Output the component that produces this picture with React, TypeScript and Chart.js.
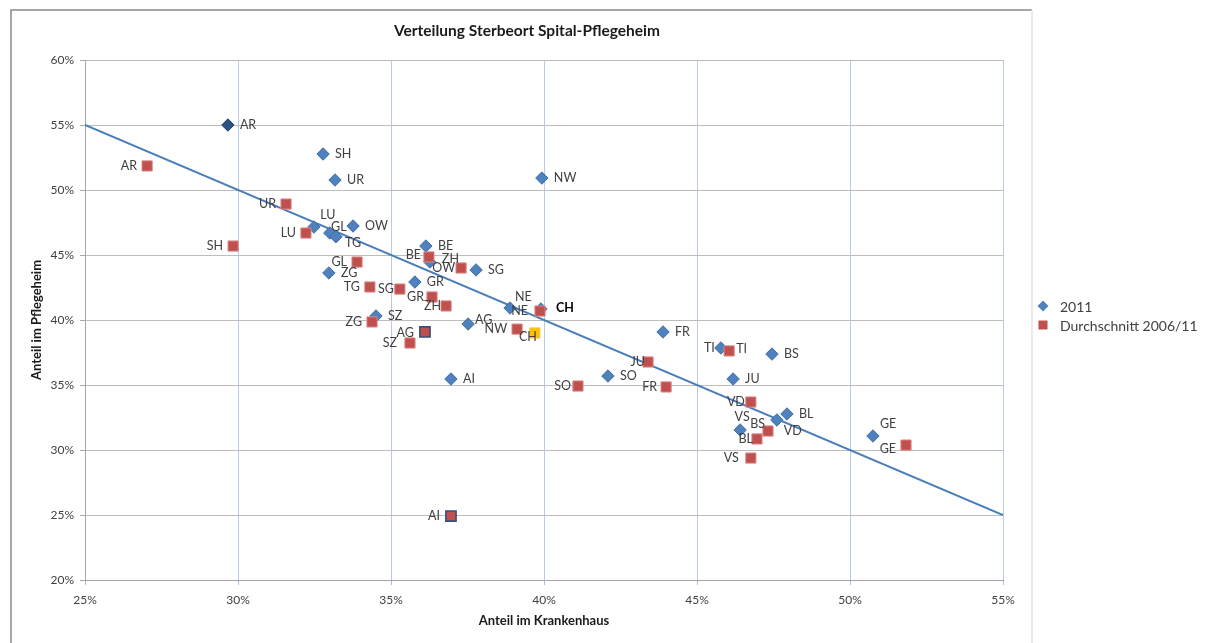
import React, { useEffect, useRef } from 'react';
import { Chart, registerables } from 'chart.js';

Chart.register(...registerables);

// ---------- data ----------
const chartTitle = 'Verteilung Sterbeort Spital-Pflegeheim';
const xAxisTitle = 'Anteil im Krankenhaus';
const yAxisTitle = 'Anteil im Pflegeheim';
const seriesNames = ['2011', 'Durchschnitt 2006/11'];

const xTicks = { min: 25, max: 55, step: 5 };
const yTicks = { min: 20, max: 60, step: 5 };

const names2011 = ['AR', 'SH', 'UR', 'NW', 'LU', 'GL', 'TG', 'OW', 'BE', 'ZH', 'SG', 'ZG', 'GR', 'SZ', 'AG', 'NE', 'CH', 'AI', 'SO', 'FR', 'TI', 'BS', 'JU', 'VS', 'BL', 'VD', 'GE'];
const x2011 = [29.67, 32.78, 33.17, 39.93, 32.48, 33.0, 33.2, 33.76, 36.14, 36.27, 37.78, 32.97, 35.78, 34.51, 37.52, 38.89, 39.9, 36.96, 42.09, 43.89, 45.78, 47.45, 46.18, 46.41, 47.94, 47.61, 50.75];
const y2011 = [55.0, 52.77, 50.77, 50.92, 47.15, 46.69, 46.4, 47.23, 45.69, 44.46, 43.85, 43.62, 42.92, 40.31, 39.69, 40.92, 40.85, 35.46, 35.69, 39.08, 37.85, 37.38, 35.46, 31.54, 32.77, 32.31, 31.08];

const namesAvg = ['AR', 'UR', 'LU', 'SH', 'GL', 'BE', 'OW', 'TG', 'SG', 'GR', 'ZH', 'ZG', 'AG', 'SZ', 'NE', 'NW', 'CH', 'AI', 'SO', 'JU', 'FR', 'TI', 'VD', 'BS', 'BL', 'VS', 'GE'];
const xAvg = [27.03, 31.57, 32.22, 29.84, 33.89, 36.24, 37.29, 34.31, 35.29, 36.34, 36.8, 34.38, 36.11, 35.62, 39.87, 39.12, 39.7, 36.96, 41.11, 43.4, 43.99, 46.05, 46.76, 47.32, 46.96, 46.76, 51.83];
const yAvg = [51.85, 48.92, 46.69, 45.69, 44.46, 44.85, 44.0, 42.54, 42.38, 41.77, 41.08, 39.85, 39.08, 38.23, 40.69, 39.3, 39.0, 24.92, 34.92, 36.77, 34.85, 37.62, 33.69, 31.46, 30.85, 29.38, 30.38];

const trendX = [25, 55];
const trendY = [55, 25];

// ---------- styles ----------
const FONT = 'Lato, "Open Sans", "Liberation Sans", sans-serif';
const BLUE = '#4F81BD';
const BLUE_DARK = '#2B5283';
const RED = '#C0504D';
const YELLOW = '#FFC000';
const TEXT = '#404040';

type Place = [number, number, CanvasTextAlign];
const blueDefault: Place = [12, 0, 'left'];
const redDefault: Place = [-10, 0, 'right'];
const blueLabelPlace: Record<string, Place> = {
  LU: [14, -12, 'center'],
  GL: [9, -6, 'center'],
  TG: [9, 6, 'left'],
  NE: [5, -11, 'left'],
  GE: [7, -12, 'left'],
  VS: [2, -13, 'center'],
  VD: [7, 11, 'left'],
  TI: [-6, 0, 'right'],
  AG: [7, -4, 'left'],
  ZH: [12, -3, 'left'],
  CH: [15, -1, 'left'],
};
const redLabelPlace: Record<string, Place> = {
  TI: [7, -2, 'left'],
  CH: [2, 4, 'right'],
  GE: [-10, 4, 'right'],
  BS: [-3, -7, 'right'],
  BL: [-4, 0, 'right'],
  ZH: [-5, 0, 'right'],
  GR: [-8, 0, 'right'],
  SG: [-6, 0, 'right'],
  OW: [-6, 0, 'right'],
  BE: [-8, -2, 'right'],
  AG: [-11, 1, 'right'],
  SZ: [-13, 0, 'right'],
  JU: [-3, 0, 'right'],
  FR: [-9, 0, 'right'],
  VD: [-6, 0, 'right'],
  VS: [-12, 0, 'right'],
  SO: [-7, 0, 'right'],
  AI: [-11, 0, 'right'],
  NE: [-12, 0, 'right'],
  NW: [-10, 0, 'right'],
};

const framePlugin = {
  id: 'frame',
  beforeDraw(chart: any) {
    const ctx = chart.ctx;
    ctx.save();
    ctx.fillStyle = '#ffffff';
    ctx.fillRect(0, 0, chart.width, chart.height);
    ctx.lineWidth = 1.5;
    ctx.strokeStyle = '#8a8a8a';
    ctx.beginPath();
    ctx.moveTo(11, chart.height);
    ctx.lineTo(11, 10);
    ctx.lineTo(1032, 10);
    ctx.stroke();
    ctx.strokeStyle = '#e4e4e4';
    ctx.beginPath();
    ctx.moveTo(1032, 10);
    ctx.lineTo(1032, chart.height);
    ctx.stroke();
    ctx.restore();
  },
  afterDraw(chart: any) {
    const ctx = chart.ctx;
    ctx.save();
    // title
    ctx.fillStyle = '#1a1a1a';
    ctx.font = `bold 15.5px ${FONT}`;
    ctx.textAlign = 'center';
    ctx.textBaseline = 'middle';
    ctx.fillText(chartTitle, 527, 31);
    // legend
    const lx = 1043;
    const ly = [306, 325];
    ctx.font = `14px ${FONT}`;
    ctx.textAlign = 'left';
    ctx.fillStyle = BLUE;
    ctx.beginPath();
    ctx.moveTo(lx, ly[0] - 5.5);
    ctx.lineTo(lx + 5.5, ly[0]);
    ctx.lineTo(lx, ly[0] + 5.5);
    ctx.lineTo(lx - 5.5, ly[0]);
    ctx.closePath();
    ctx.fill();
    ctx.fillStyle = RED;
    ctx.fillRect(lx - 4.5, ly[1] - 4.5, 9, 9);
    ctx.fillStyle = TEXT;
    ctx.fillText(seriesNames[0], lx + 17, ly[0] + 1);
    ctx.fillText(seriesNames[1], lx + 17, ly[1] + 1);
    ctx.restore();
  },
};

const labelPlugin = {
  id: 'pointLabels',
  afterDatasetsDraw(chart: any) {
    const ctx = chart.ctx;
    ctx.save();
    ctx.textBaseline = 'middle';
    const sets: [number, string[], Place, Record<string, Place>][] = [
      [0, names2011, blueDefault, blueLabelPlace],
      [1, namesAvg, redDefault, redLabelPlace],
    ];
    for (const [di, labels, def, map] of sets) {
      const meta = chart.getDatasetMeta(di);
      meta.data.forEach((el: any, i: number) => {
        const name = labels[i];
        const p = map[name] || def;
        const bold = di === 0 && name === 'CH';
        ctx.font = `${bold ? 'bold ' : ''}12.5px ${FONT}`;
        ctx.fillStyle = bold ? '#000000' : TEXT;
        ctx.textAlign = p[2];
        ctx.fillText(name, el.x + p[0], el.y + p[1]);
      });
    }
    ctx.restore();
  },
};

export default function App() {
  const ref = useRef<HTMLCanvasElement | null>(null);

  useEffect(() => {
    document.body.style.margin = '0';
    if (!ref.current) return;
    const chart = new Chart(ref.current, {
      type: 'scatter',
      data: {
        datasets: [
          {
            label: seriesNames[0],
            data: x2011.map((x, i) => ({ x, y: y2011[i] })),
            pointStyle: 'rectRot',
            pointRadius: 6.2,
            pointHoverRadius: 6.2,
            backgroundColor: (c: any) => (names2011[c.dataIndex] === 'AR' ? BLUE_DARK : BLUE),
            borderColor: (c: any) => (names2011[c.dataIndex] === 'AR' ? '#1f3f66' : '#3d6ea8'),
            borderWidth: 1,
            order: 2,
          },
          {
            label: seriesNames[1],
            data: xAvg.map((x, i) => ({ x, y: yAvg[i] })),
            pointStyle: 'rect',
            pointRadius: 7.2,
            pointHoverRadius: 7.2,
            backgroundColor: (c: any) => (namesAvg[c.dataIndex] === 'CH' ? YELLOW : RED),
            borderColor: (c: any) => {
              const n = namesAvg[c.dataIndex];
              if (n === 'CH') return '#f2c84b';
              if (n === 'AG' || n === 'AI') return '#35507a';
              return '#d98a88';
            },
            borderWidth: (c: any) => (namesAvg[c.dataIndex] === 'AG' || namesAvg[c.dataIndex] === 'AI' ? 1.6 : 1),
            order: 1,
          },
          {
            type: 'line',
            label: 'Trend',
            data: trendX.map((x, i) => ({ x, y: trendY[i] })),
            borderColor: '#4A7EBB',
            borderWidth: 2,
            pointRadius: 0,
            fill: false,
            order: 3,
          } as any,
        ],
      },
      options: {
        responsive: false,
        animation: false,
        devicePixelRatio: 1,
        layout: { padding: { left: 10, right: 213, top: 60, bottom: 0 } },
        plugins: {
          legend: { display: false },
          tooltip: { enabled: false },
          title: { display: false },
        },
        scales: {
          x: {
            type: 'linear',
            min: xTicks.min,
            max: xTicks.max,
            afterFit: (s: any) => {
              s.height = 63;
            },
            ticks: {
              stepSize: xTicks.step,
              callback: (v: any) => `${v}%`,
              color: TEXT,
              font: { family: FONT, size: 12 },
              padding: 8,
              maxRotation: 0,
            },
            grid: { color: '#b7cbe4', lineWidth: 1, tickLength: 5, tickColor: '#a9bedb' },
            border: { color: '#a6a6a6', width: 1 },
            title: {
              display: true,
              text: xAxisTitle,
              color: '#1a1a1a',
              font: { family: FONT, size: 13, weight: 'bold' },
              padding: { top: 0, bottom: 14 },
            },
          },
          y: {
            type: 'linear',
            min: yTicks.min,
            max: yTicks.max,
            afterFit: (s: any) => {
              s.width = 75;
            },
            ticks: {
              stepSize: yTicks.step,
              callback: (v: any) => `${v}%`,
              color: TEXT,
              font: { family: FONT, size: 12 },
              padding: 6,
            },
            grid: { color: '#bdbdbd', lineWidth: 1, tickLength: 5, tickColor: '#a6a6a6' },
            border: { color: '#a6a6a6', width: 1 },
            title: {
              display: true,
              text: yAxisTitle,
              color: '#1a1a1a',
              font: { family: FONT, size: 13, weight: 'bold' },
              padding: { top: 19, bottom: 0 },
            },
          },
        },
      },
      plugins: [framePlugin, labelPlugin],
    });
    return () => chart.destroy();
  }, []);

  return (
    <div style={{ position: 'absolute', left: 0, top: 0, width: 1216, height: 643 }}>
      <canvas ref={ref} width={1216} height={643} style={{ width: 1216, height: 643, display: 'block' }} />
    </div>
  );
}
